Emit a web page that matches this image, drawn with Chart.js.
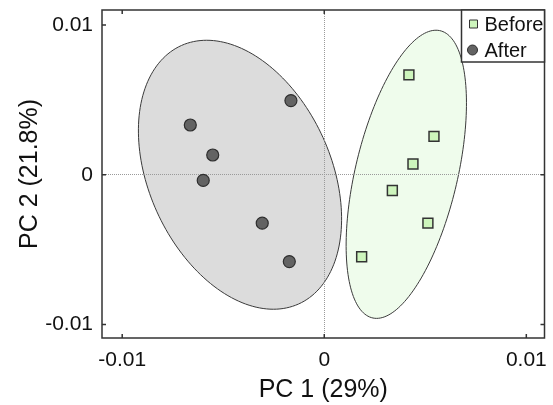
<!DOCTYPE html>
<html>
<head>
<meta charset="utf-8">
<script src="https://cdn.jsdelivr.net/npm/chart.js@4.4.1/dist/chart.umd.min.js"></script>
<style>
  body { margin: 0; background: #fff; }
</style>
</head>
<body>
<canvas id="pca" width="553" height="405"></canvas>
<script>
var groupNames = ["Before", "After"];
var beforeX = [0.00419, 0.00543, 0.00439, 0.00337, 0.00513, 0.00185];
var beforeY = [0.00667, 0.00256, 0.00072, -0.00105, -0.00323, -0.00548];
var afterX = [-0.00165, -0.00663, -0.00552, -0.00599, -0.00307, -0.00173];
var afterY = [0.00495, 0.00332, 0.00132, -0.00038, -0.00323, -0.0058];
var tickValues = [-0.01, 0, 0.01];
var tickLabels = ["-0.01", "0", "0.01"];

// group ellipses (data units): centre, vector to top point, horizontal half-chord
var ellipseCenterX = [0.00406, -0.00417];
var ellipseCenterY = [0.00003, 0.0];
var ellipseTopDX = [0.00147, -0.00165];
var ellipseTopDY = [0.00962, 0.00898];
var ellipseHalfWidth = [0.00259, 0.00475];
var ellipseFills = ["#effcec", "#dcdcdc"];

var FONT = "'Liberation Sans', Arial, sans-serif";
var INK = "#333333";

var ellipsePlugin = {
    id: "ellipses",
    beforeDraw: function(chart) {
        var xs = chart.scales.x, ys = chart.scales.y, ctx = chart.ctx;
        for (var i = 0; i < ellipseCenterX.length; i++) {
            ctx.save();
            ctx.beginPath();
            for (var k = 0; k <= 180; k++) {
                var t = k / 180 * 2 * Math.PI;
                var vx = ellipseCenterX[i] + ellipseTopDX[i] * Math.cos(t) + ellipseHalfWidth[i] * Math.sin(t);
                var vy = ellipseCenterY[i] + ellipseTopDY[i] * Math.cos(t);
                var px = xs.getPixelForValue(vx), py = ys.getPixelForValue(vy);
                if (k === 0) ctx.moveTo(px, py); else ctx.lineTo(px, py);
            }
            ctx.closePath();
            ctx.fillStyle = ellipseFills[i];
            ctx.fill();
            ctx.strokeStyle = "#3a3a3a";
            ctx.lineWidth = 1;
            ctx.stroke();
            ctx.restore();
        }
    }
};

var framePlugin = {
    id: "frame",
    afterDatasetsDraw: function(chart) {
        var ctx = chart.ctx, a = chart.chartArea;
        var xs = chart.scales.x, ys = chart.scales.y;
        ctx.save();
        ctx.strokeStyle = INK;
        ctx.lineWidth = 1.5;
        ctx.strokeRect(a.left, a.top, a.right - a.left, a.bottom - a.top);
        ctx.beginPath();
        tickValues.forEach(function(v) {
            var px = xs.getPixelForValue(v), py = ys.getPixelForValue(v);
            ctx.moveTo(px, a.bottom); ctx.lineTo(px, a.bottom - 4);
            ctx.moveTo(px, a.top); ctx.lineTo(px, a.top + 4);
            ctx.moveTo(a.left, py); ctx.lineTo(a.left + 4, py);
            ctx.moveTo(a.right, py); ctx.lineTo(a.right - 4, py);
        });
        ctx.stroke();

        // legend box
        var boxL = a.right - 83, boxB = a.top + 52;
        ctx.fillStyle = "#fff";
        ctx.fillRect(boxL, a.top, a.right - boxL, boxB - a.top);
        ctx.lineWidth = 1.5;
        ctx.strokeRect(boxL, a.top, a.right - boxL, boxB - a.top);
        chart.data.datasets.forEach(function(ds, i) {
            var cy = a.top + 14 + i * 26;
            ctx.fillStyle = ds.backgroundColor;
            ctx.strokeStyle = ds.borderColor;
            ctx.lineWidth = 1;
            ctx.beginPath();
            if (ds.pointStyle === "rect") {
                ctx.rect(boxL + 8, cy - 4, 8, 8);
            } else {
                ctx.arc(boxL + 11, cy, 5, 0, 2 * Math.PI);
            }
            ctx.fill();
            ctx.stroke();
            ctx.fillStyle = "#111";
            ctx.font = "20px " + FONT;
            ctx.textBaseline = "middle";
            ctx.fillText(ds.label, boxL + 23, cy + 1);
        });
        ctx.restore();
    }
};

function zeroGrid(c) {
    return c.tick && c.tick.value === 0 ? "#9a9a9a" : "rgba(0,0,0,0)";
}

function noPadding(s) {
    s.paddingTop = 0;
    s.paddingBottom = 0;
    s.paddingLeft = 0;
    s.paddingRight = 0;
}

new Chart(document.getElementById("pca"), {
    type: "scatter",
    data: {
        datasets: [{
            label: groupNames[0],
            data: beforeX.map(function(x, i) { return {x: x, y: beforeY[i]}; }),
            pointStyle: "rect",
            pointRadius: 7,
            pointHoverRadius: 7,
            backgroundColor: "#cdf5bc",
            borderColor: "#333333",
            borderWidth: 1.5
        }, {
            label: groupNames[1],
            data: afterX.map(function(x, i) { return {x: x, y: afterY[i]}; }),
            pointStyle: "circle",
            pointRadius: 6,
            pointHoverRadius: 6,
            backgroundColor: "#636363",
            borderColor: "#2e2e2e",
            borderWidth: 1.2
        }]
    },
    options: {
        responsive: false,
        animation: false,
        layout: {padding: {top: 10, right: 8, left: 0, bottom: 0}},
        plugins: {legend: {display: false}, tooltip: {enabled: false}},
        scales: {
            x: {
                type: "linear",
                min: -0.011,
                max: 0.0109,
                afterBuildTicks: function(s) { s.ticks = tickValues.map(function(v) { return {value: v}; }); },
                afterFit: function(s) { s.height = 67; noPadding(s); },
                grid: {drawTicks: false, color: zeroGrid, lineWidth: 1},
                border: {display: false, dash: [1, 1]},
                ticks: {
                    padding: 10,
                    color: "#111",
                    font: {family: FONT, size: 21},
                    maxRotation: 0,
                    callback: function(v) { return tickLabels[tickValues.indexOf(v)]; }
                },
                title: {
                    display: true,
                    text: "PC 1 (29%)",
                    color: "#111",
                    font: {family: FONT, size: 25},
                    padding: {top: 0, bottom: 0}
                }
            },
            y: {
                type: "linear",
                min: -0.0109,
                max: 0.011,
                afterBuildTicks: function(s) { s.ticks = tickValues.map(function(v) { return {value: v}; }); },
                afterFit: function(s) { s.width = 102; noPadding(s); },
                grid: {drawTicks: false, color: zeroGrid, lineWidth: 1},
                border: {display: false, dash: [1, 1]},
                ticks: {
                    padding: 9,
                    color: "#111",
                    font: {family: FONT, size: 21},
                    callback: function(v) { return tickLabels[tickValues.indexOf(v)]; }
                },
                title: {
                    display: true,
                    text: "PC 2 (21.8%)",
                    color: "#111",
                    font: {family: FONT, size: 25},
                    padding: {top: 15, bottom: 0}
                }
            }
        }
    },
    plugins: [ellipsePlugin, framePlugin]
});
</script>
</body>
</html>
